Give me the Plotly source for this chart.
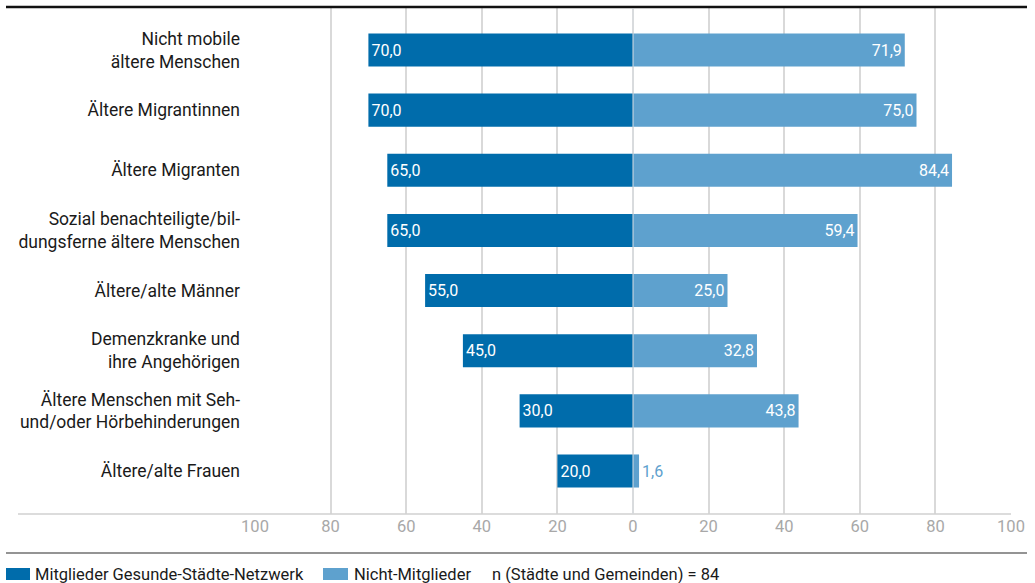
import plotly.graph_objects as go

categories = [
    "Nicht mobile<br>ältere Menschen",
    "Ältere Migrantinnen",
    "Ältere Migranten",
    "Sozial benachteiligte/bil-<br>dungsferne ältere Menschen",
    "Ältere/alte Männer",
    "Demenzkranke und<br>ihre Angehörigen",
    "Ältere Menschen mit Seh-<br>und/oder Hörbehinderungen",
    "Ältere/alte Frauen",
]
members = [70.0, 70.0, 65.0, 65.0, 55.0, 45.0, 30.0, 20.0]
non_members = [71.9, 75.0, 84.4, 59.4, 25.0, 32.8, 43.8, 1.6]
tick_values = [-100, -80, -60, -40, -20, 0, 20, 40, 60, 80, 100]
tick_labels = ["100", "80", "60", "40", "20", "0", "20", "40", "60", "80", "100"]
series_names = ["Mitglieder Gesunde-Städte-Netzwerk", "Nicht-Mitglieder"]
note = "n (Städte und Gemeinden) = 84"

DARK = "#006CAB"
LIGHT = "#5EA1CE"
FONT = "Roboto, 'Open Sans', sans-serif"

W, H = 1035, 583
ML, MR, MT, MB = 255, 24, 7, 69
PW, PH = W - ML - MR, H - MT - MB


def px_x(px):
    return (px - ML) / PW


def px_y(py):
    return (H - MB - py) / PH


def fmt(v):
    return f"{v:.1f}".replace(".", ",")


fig = go.Figure()
fig.add_trace(go.Bar(
    y=categories, x=[-v for v in members], orientation="h",
    name=series_names[0], marker=dict(color=DARK, line=dict(width=0)),
    text=[fmt(v) for v in members], textposition="auto",
    insidetextanchor="end",
    insidetextfont=dict(color="white", size=16, family=FONT),
    outsidetextfont=dict(color=DARK, size=16, family=FONT),
    width=0.55, showlegend=False, hoverinfo="skip", cliponaxis=False,
))
fig.add_trace(go.Bar(
    y=categories, x=non_members, orientation="h",
    name=series_names[1], marker=dict(color=LIGHT, line=dict(width=0)),
    text=[fmt(v) for v in non_members], textposition="auto",
    insidetextanchor="end",
    insidetextfont=dict(color="white", size=16, family=FONT),
    outsidetextfont=dict(color=LIGHT, size=16, family=FONT),
    width=0.55, showlegend=False, hoverinfo="skip", cliponaxis=False,
))

shapes = [
    # top black rule
    dict(type="line", xref="paper", yref="paper", x0=px_x(6), x1=px_x(1027),
         y0=px_y(7), y1=px_y(7), line=dict(color="#111111", width=2.5)),
    # axis base line
    dict(type="line", xref="paper", yref="paper", x0=px_x(18), x1=px_x(1011),
         y0=0, y1=0, line=dict(color="#d0d0d0", width=1.5)),
    # rule above legend
    dict(type="line", xref="paper", yref="paper", x0=px_x(6), x1=px_x(1027),
         y0=px_y(553), y1=px_y(553), line=dict(color="#707070", width=1.5)),
    # zero line over bars
    dict(type="line", xref="x", yref="paper", x0=0, x1=0, y0=0, y1=px_y(8),
         line=dict(color="#d8dde2", width=1), layer="above"),
    # legend swatches
    dict(type="rect", xref="paper", yref="paper", x0=px_x(6), x1=px_x(30),
         y0=px_y(580), y1=px_y(568), fillcolor=DARK, line=dict(width=0)),
    dict(type="rect", xref="paper", yref="paper", x0=px_x(323), x1=px_x(348),
         y0=px_y(580), y1=px_y(568), fillcolor=LIGHT, line=dict(width=0)),
]

annotations = [
    dict(xref="paper", yref="paper", x=px_x(33), y=px_y(574), text=series_names[0],
         xanchor="left", yanchor="middle", showarrow=False,
         font=dict(size=16.5, color="#1a1a1a", family=FONT)),
    dict(xref="paper", yref="paper", x=px_x(352), y=px_y(574), text=series_names[1],
         xanchor="left", yanchor="middle", showarrow=False,
         font=dict(size=16.5, color="#1a1a1a", family=FONT)),
    dict(xref="paper", yref="paper", x=px_x(490), y=px_y(574), text=note,
         xanchor="left", yanchor="middle", showarrow=False,
         font=dict(size=16.5, color="#1a1a1a", family=FONT)),
]

fig.update_layout(
    width=W, height=H,
    margin=dict(l=ML, r=MR, t=MT, b=MB, pad=0),
    paper_bgcolor="white", plot_bgcolor="white",
    barmode="relative",
    font=dict(family=FONT, size=16, color="#1a1a1a"),
    shapes=shapes, annotations=annotations,
    xaxis=dict(range=[-100, 100], tickvals=tick_values, ticktext=tick_labels,
               showgrid=True, gridcolor="#d9d9d9", gridwidth=1.5,
               zeroline=False, showline=False, ticks="",
               tickfont=dict(size=16.5, color="#a8a8a8", family=FONT),
               fixedrange=True),
    yaxis=dict(categoryorder="array", categoryarray=categories,
               range=[7.715, -0.715], showgrid=False, zeroline=False,
               showline=False, ticks="", ticklabelstandoff=14,
               tickfont=dict(size=17.5, color="#1a1a1a", family=FONT),
               fixedrange=True),
    showlegend=False,
)

fig.write_html(
    "out.html",
    config={"displayModeBar": False},
    post_script="document.body.style.margin='0';document.body.style.overflow='hidden';",
)
